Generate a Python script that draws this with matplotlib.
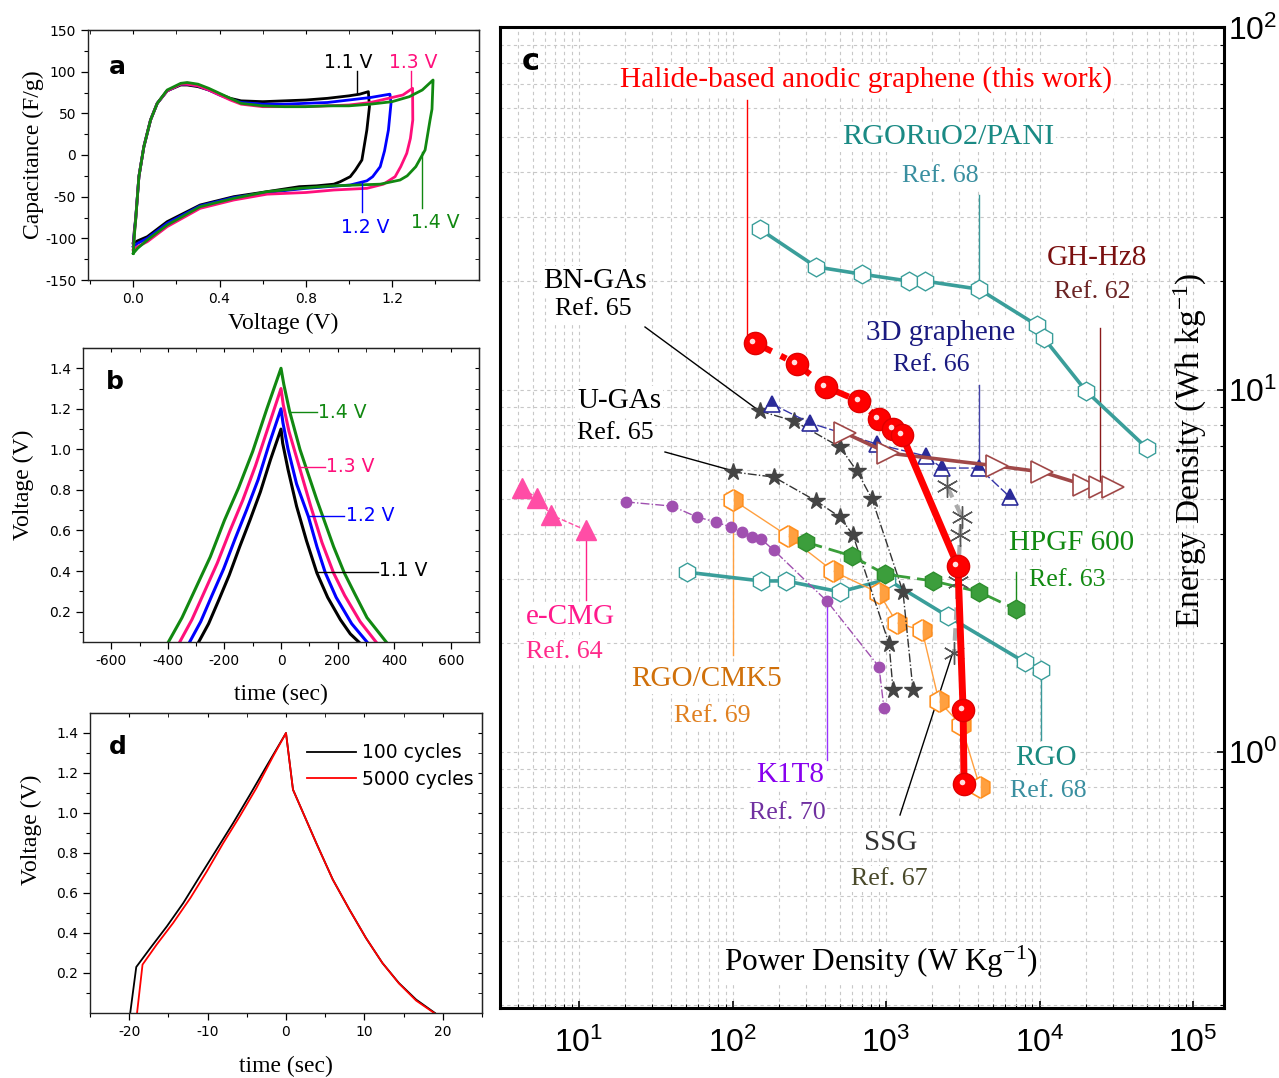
import matplotlib.pyplot as plt
from matplotlib import transforms
from matplotlib.ticker import FixedLocator, FormatStrFormatter, NullFormatter, LogLocator

plt.rcParams["mathtext.default"] = "regular"
plt.rcParams["axes.unicode_minus"] = False
plt.rcParams["font.family"] = "DejaVu Sans"

SERIF = "Liberation Serif"
ARIAL = "Liberation Sans"

# ---------------- panel a : CV curves ----------------
cv_v_11 = [0.0, 0.005, 0.011, 0.026, 0.049, 0.08, 0.111, 0.157, 0.22, 0.25, 0.30, 0.35, 0.40, 0.45, 0.50, 0.60,
           0.70, 0.80, 0.90, 1.00, 1.05, 1.09,
           1.095, 1.083, 1.06, 1.03, 1.006, 0.96, 0.93, 0.85, 0.77, 0.62, 0.466, 0.31, 0.157, 0.065, 0.02, 0.0]
cv_c_11 = [-106, -90, -76, -26, 10, 42, 62, 77, 84, 84, 82, 78, 73, 68, 65, 64,
           65, 66, 68, 71, 73, 76,
           58, 30, -6, -18, -26, -32, -35, -37, -38, -44, -50, -60, -80, -98, -103, -106]
cv_v_12 = [0.0, 0.005, 0.011, 0.026, 0.049, 0.08, 0.111, 0.157, 0.22, 0.25, 0.30, 0.35, 0.40, 0.45, 0.50, 0.60,
           0.70, 0.80, 0.90, 1.00, 1.10, 1.19,
           1.195, 1.183, 1.165, 1.145, 1.11, 1.083, 1.006, 0.90, 0.80, 0.62, 0.466, 0.31, 0.157, 0.065, 0.02, 0.0]
cv_c_12 = [-110, -92, -77, -26, 10, 42, 62, 77, 85, 85, 83, 78, 72, 67, 63, 61,
           61, 62, 63, 66, 69, 73,
           62, 30, 5, -14, -26, -31, -36, -38, -40, -45, -51, -61, -82, -100, -106, -110]
cv_v_13 = [0.0, 0.005, 0.011, 0.026, 0.049, 0.08, 0.111, 0.157, 0.22, 0.25, 0.30, 0.35, 0.40, 0.45, 0.50, 0.60,
           0.70, 0.80, 0.90, 1.00, 1.10, 1.15, 1.25, 1.295,
           1.296, 1.285, 1.268, 1.24, 1.214, 1.16, 1.083, 0.93, 0.80, 0.62, 0.466, 0.31, 0.157, 0.065, 0.02, 0.0]
cv_c_13 = [-114, -94, -78, -26, 10, 42, 62, 77, 85, 85, 83, 78, 72, 66, 61, 58,
           58, 58, 59, 60, 63, 66, 72, 80,
           42, 20, 2, -14, -26, -35, -40, -42, -45, -47, -54, -64, -86, -104, -110, -114]
cv_v_14 = [0.0, 0.005, 0.011, 0.026, 0.049, 0.08, 0.111, 0.157, 0.22, 0.25, 0.30, 0.35, 0.40, 0.45, 0.50, 0.60,
           0.70, 0.80, 0.90, 1.00, 1.10, 1.20, 1.28, 1.34, 1.39,
           1.385, 1.376, 1.353, 1.31, 1.27, 1.237, 1.145, 0.93, 0.77, 0.62, 0.466, 0.31, 0.157, 0.065, 0.02, 0.0]
cv_c_14 = [-118, -96, -78, -26, 10, 42, 62, 78, 86, 87, 85, 80, 74, 68, 62, 59,
           58, 58, 59, 59, 61, 64, 70, 78, 90,
           55, 42, 6, -14, -25, -30, -35, -37, -40, -44, -52, -62, -84, -102, -112, -118]

# ---------------- panel b : charge / discharge ----------------
gcd_t_11 = [-291, -256, -219, -183, -146, -110, -73, -37, 0, 6, 25, 55, 90, 127, 165, 210, 245, 275]
gcd_v_11 = [0.05, 0.14, 0.26, 0.38, 0.52, 0.65, 0.79, 0.95, 1.1, 1.03, 0.9, 0.72, 0.55, 0.39, 0.27, 0.16, 0.09, 0.05]
gcd_t_12 = [-323, -284, -244, -203, -162, -122, -81, -41, 0, 7, 25, 55, 97, 127, 157, 195, 250, 304]
gcd_v_12 = [0.05, 0.15, 0.28, 0.41, 0.56, 0.70, 0.85, 1.03, 1.2, 1.13, 1.0, 0.83, 0.668, 0.52, 0.39, 0.27, 0.14, 0.05]
gcd_t_13 = [-358, -315, -270, -225, -180, -135, -90, -45, 0, 8, 28, 64, 105, 145, 186, 225, 280, 336]
gcd_v_13 = [0.05, 0.16, 0.30, 0.44, 0.60, 0.75, 0.92, 1.11, 1.3, 1.22, 1.09, 0.917, 0.72, 0.54, 0.39, 0.28, 0.15, 0.05]
gcd_t_14 = [-398, -350, -300, -250, -200, -150, -100, -50, 0, 10, 30, 67, 127, 186, 224, 260, 304, 372]
gcd_v_14 = [0.05, 0.17, 0.32, 0.47, 0.65, 0.81, 0.99, 1.2, 1.4, 1.32, 1.19, 1.0, 0.75, 0.52, 0.39, 0.29, 0.17, 0.05]

# ---------------- panel d : cycling ----------------
cyc_t_100 = [-19.87, -19.1, -17.3, -15.2, -13.1, -11.0, -8.86, -6.74, -4.62, -2.5, 0, 0.89, 3.86, 5.97, 8.09,
             10.2, 12.3, 14.4, 16.6, 19.0]
cyc_v_100 = [0.0, 0.23, 0.325, 0.433, 0.55, 0.683, 0.817, 0.95, 1.09, 1.233, 1.4, 1.117, 0.85, 0.667, 0.517,
             0.375, 0.25, 0.15, 0.067, 0.0]
cyc_t_5000 = [-19.0, -18.3, -16.5, -14.4, -12.2, -10.1, -8.0, -5.9, -3.77, -1.65, 0, 0.89, 3.86, 5.97, 8.09,
              10.2, 12.3, 14.4, 16.6, 18.9]
cyc_v_5000 = [0.0, 0.242, 0.342, 0.45, 0.575, 0.708, 0.85, 0.983, 1.125, 1.283, 1.4, 1.117, 0.85, 0.667, 0.517,
              0.375, 0.25, 0.148, 0.062, 0.0]

# ---------------- panel c : Ragone plot (W/kg, Wh/kg) ----------------
halide_p = [140, 263, 406, 667, 900, 1112, 1271, 2944, 3178, 3223]
halide_e = [13.5, 11.8, 10.2, 9.32, 8.32, 7.80, 7.51, 3.26, 1.31, 0.816]
rgoruo_p = [151, 350, 698, 1413, 1795, 4036, 9640, 10700, 20100, 50100]
rgoruo_e = [27.8, 21.9, 20.9, 20.0, 20.0, 19.0, 15.1, 13.9, 9.94, 6.91]
ghhz_p = [541, 1030, 5280, 10380, 19500, 24800, 30100]
ghhz_e = [7.61, 6.70, 6.17, 5.94, 5.47, 5.40, 5.40]
gr3d_p = [181, 320, 873, 1823, 2318, 4036, 6430]
gr3d_e = [9.15, 8.11, 7.09, 6.57, 6.09, 6.09, 5.06]
bngas_p = [151, 252, 501, 647, 811, 1290, 1500]
bngas_e = [8.75, 8.21, 6.96, 5.97, 5.00, 2.77, 1.48]
ugas_p = [101, 186, 350, 501, 609, 1047, 1112]
ugas_e = [5.94, 5.75, 4.94, 4.46, 3.98, 1.99, 1.48]
ssg_p = [2494, 3126, 3035, 2944, 2775]
ssg_e = [5.43, 4.46, 3.98, 2.95, 1.88]
hpgf_p = [301, 601, 984, 2024, 4036, 7030]
hpgf_e = [3.80, 3.48, 3.10, 2.97, 2.77, 2.48]
rgo_p = [50.6, 153, 223, 501, 1016, 2535, 8050, 10240]
rgo_e = [3.14, 2.97, 2.97, 2.77, 3.00, 2.37, 1.77, 1.69]
cmk_p = [101, 230, 452, 900, 1180, 1718, 2213, 3080, 4090]
cmk_e = [4.97, 3.95, 3.16, 2.75, 2.27, 2.17, 1.38, 1.19, 0.80]
k1t8_p = [20.2, 40.4, 58.7, 78.1, 97.8, 115, 134, 153, 186, 413, 900, 970]
k1t8_e = [4.91, 4.78, 4.46, 4.32, 4.18, 4.05, 3.93, 3.88, 3.61, 2.61, 1.72, 1.32]
ecmg_p = [4.26, 5.32, 6.58, 11.1]
ecmg_e = [5.36, 5.03, 4.52, 4.10]

C_BLACK, C_BLUE, C_PINK, C_GREEN = "#000000", "#0000FF", "#FF0F7B", "#118811"

W, H = 1279, 1078
fig = plt.figure(figsize=(W / 100, H / 100), dpi=100)


def fx(px):
    return px / W


def fy(py):
    return 1 - py / H


def box(left, top, right, bottom):
    return [fx(left), fy(bottom), (right - left) / W, (bottom - top) / H]


def fig_line(ax, x1, y1, x2, y2, color, lw=1.0, z=2):
    ax.plot([fx(x1), fx(x2)], [fy(y1), fy(y2)], color=color, lw=lw,
            transform=fig.transFigure, clip_on=False, zorder=z)


def fig_text(ax, px, py, s, ha="center", **kw):
    ax.text(fx(px), fy(py), s, transform=fig.transFigure, ha=ha, va="center", **kw)


def small_panel(ax, xmaj, xmin, ymaj, ymin):
    for s in ax.spines.values():
        s.set_linewidth(1.0)
        s.set_color("#222222")
    ax.xaxis.set_major_locator(FixedLocator(xmaj))
    ax.xaxis.set_minor_locator(FixedLocator(xmin))
    ax.yaxis.set_major_locator(FixedLocator(ymaj))
    ax.yaxis.set_minor_locator(FixedLocator(ymin))
    ax.tick_params(which="major", direction="out", length=5, width=0.9, labelsize=10)
    ax.tick_params(which="minor", direction="out", length=3, width=0.8)
    top = ax.secondary_xaxis("top")
    top.xaxis.set_major_locator(FixedLocator(xmaj))
    top.xaxis.set_minor_locator(FixedLocator(xmin))
    top.tick_params(which="both", direction="in", length=3, labeltop=False)
    right = ax.secondary_yaxis("right")
    right.yaxis.set_major_locator(FixedLocator(ymaj))
    right.yaxis.set_minor_locator(FixedLocator(ymin))
    right.tick_params(which="both", direction="in", length=3, labelright=False)


# ---------------- panel a ----------------
ax_a = fig.add_axes(box(88, 30, 479, 280))
ax_a.plot(cv_v_11, cv_c_11, color=C_BLACK, lw=2)
ax_a.plot(cv_v_12, cv_c_12, color=C_BLUE, lw=2)
ax_a.plot(cv_v_13, cv_c_13, color=C_PINK, lw=2)
ax_a.plot(cv_v_14, cv_c_14, color=C_GREEN, lw=2)
ax_a.set_xlim(-0.21, 1.603)
ax_a.set_ylim(-150, 150)
small_panel(ax_a, [0.0, 0.4, 0.8, 1.2], [-0.2, 0.2, 0.6, 1.0, 1.4],
            [-150, -100, -50, 0, 50, 100, 150], [-125, -75, -25, 25, 75, 125])
ax_a.xaxis.set_major_formatter(FormatStrFormatter("%.1f"))
ax_a.set_xlabel("Voltage (V)", fontfamily=SERIF, fontsize=17)
ax_a.set_ylabel("Capacitance (F/g)", fontfamily=SERIF, fontsize=17)
ax_a.xaxis.set_label_coords(0.5, -0.132)
ax_a.yaxis.set_label_coords(-0.113, 0.5)
fig_text(ax_a, 117, 67, "a", fontsize=18, fontweight="bold")
fig_text(ax_a, 348, 62, "1.1 V", color=C_BLACK, fontsize=13.5)
fig_text(ax_a, 413, 62, "1.3 V", color=C_PINK, fontsize=13.5)
fig_text(ax_a, 365, 227, "1.2 V", color=C_BLUE, fontsize=13.5)
fig_text(ax_a, 435, 223, "1.4 V", color=C_GREEN, fontsize=13.5)
fig_line(ax_a, 357, 71, 357, 94, C_BLACK)
fig_line(ax_a, 411, 71, 411, 90, C_PINK)
fig_line(ax_a, 362, 183, 362, 212, C_BLUE)
fig_line(ax_a, 422, 152, 422, 208, C_GREEN)

# ---------------- panel b ----------------
ax_b = fig.add_axes(box(83, 348, 479, 642))
ax_b.plot(gcd_t_11, gcd_v_11, color=C_BLACK, lw=2.2)
ax_b.plot(gcd_t_12, gcd_v_12, color=C_BLUE, lw=2.2)
ax_b.plot(gcd_t_13, gcd_v_13, color=C_PINK, lw=2.2)
ax_b.plot(gcd_t_14, gcd_v_14, color=C_GREEN, lw=2.2)
ax_b.set_xlim(-700, 700)
ax_b.set_ylim(0.05, 1.5)
small_panel(ax_b, [-600, -400, -200, 0, 200, 400, 600], [-500, -300, -100, 100, 300, 500],
            [0.2, 0.4, 0.6, 0.8, 1.0, 1.2, 1.4], [0.1, 0.3, 0.5, 0.7, 0.9, 1.1, 1.3])
ax_b.yaxis.set_major_formatter(FormatStrFormatter("%.1f"))
ax_b.set_xlabel("time (sec)", fontfamily=SERIF, fontsize=17)
ax_b.set_ylabel("Voltage (V)", fontfamily=SERIF, fontsize=17)
ax_b.xaxis.set_label_coords(0.5, -0.143)
ax_b.yaxis.set_label_coords(-0.124, 0.534)
fig_text(ax_b, 115, 382, "b", fontsize=18, fontweight="bold")
fig_line(ax_b, 289, 412, 317, 412, C_GREEN)
fig_line(ax_b, 299, 467, 325, 467, C_PINK)
fig_line(ax_b, 308, 516, 344, 516, C_BLUE)
fig_line(ax_b, 317, 572, 378, 572, C_BLACK)
fig_text(ax_b, 318, 412, "1.4 V", ha="left", color=C_GREEN, fontsize=13.5)
fig_text(ax_b, 326, 467, "1.3 V", ha="left", color=C_PINK, fontsize=13.5)
fig_text(ax_b, 346, 515, "1.2 V", ha="left", color=C_BLUE, fontsize=13.5)
fig_text(ax_b, 379, 571, "1.1 V", ha="left", color=C_BLACK, fontsize=13.5)

# ---------------- panel d ----------------
ax_d = fig.add_axes(box(90, 713, 482, 1013))
ax_d.plot(cyc_t_100, cyc_v_100, color=C_BLACK, lw=1.3, label="100 cycles")
ax_d.plot(cyc_t_5000, cyc_v_5000, color="#FF0000", lw=1.3, label="5000 cycles")
ax_d.set_xlim(-25, 25)
ax_d.set_ylim(0, 1.5)
small_panel(ax_d, [-20, -10, 0, 10, 20], [-25, -15, -5, 5, 15, 25],
            [0.2, 0.4, 0.6, 0.8, 1.0, 1.2, 1.4], [0.1, 0.3, 0.5, 0.7, 0.9, 1.1, 1.3])
ax_d.yaxis.set_major_formatter(FormatStrFormatter("%.1f"))
ax_d.set_xlabel("time (sec)", fontfamily=SERIF, fontsize=17)
ax_d.set_ylabel("Voltage (V)", fontfamily=SERIF, fontsize=17)
ax_d.xaxis.set_label_coords(0.5, -0.143)
ax_d.yaxis.set_label_coords(-0.122, 0.61)
ax_d.legend(loc="upper left", bbox_to_anchor=(0.53, 0.93), frameon=False, fontsize=13.5,
            handlelength=2.6, handletextpad=0.35, labelspacing=0.4, borderpad=0)
fig_text(ax_d, 118, 747, "d", fontsize=18, fontweight="bold")

# ---------------- panel c ----------------
ax_c = fig.add_axes(box(500, 27, 1224, 1008))
ax_c.set_xscale("log")
ax_c.set_yscale("log")

ax_c.plot(rgo_p, rgo_e, "-", color="#3A9E9A", lw=2.6, marker="h", ms=13.5,
          mfc="white", mec="#3A9E9A", mew=1.0, zorder=3)
ax_c.plot(cmk_p, cmk_e, "-", color="#FFA040", lw=1.0, marker="h", ms=15.5, fillstyle="right",
          mfc="#FFA040", markerfacecoloralt="white", mec="#FF9020", mew=1.2, zorder=3)
ax_c.plot(k1t8_p, k1t8_e, color="#A050B0", lw=1.0, ls="-.", marker="o", ms=7.5,
          mfc="#A050B0", mec="#A050B0", zorder=3)
ax_c.plot(ecmg_p, ecmg_e, color="#FF4DA6", lw=1.0, ls="--", marker="^", ms=14.5,
          mfc="#FF4DA6", mec="#FF4DA6", zorder=3)
ax_c.plot(ugas_p, ugas_e, color="#333333", lw=1.0, ls="-.", marker="*", ms=13,
          mfc="#444444", mec="#444444", zorder=3)
ax_c.plot(bngas_p, bngas_e, color="#333333", lw=1.0, ls="-.", marker="*", ms=13,
          mfc="#444444", mec="#444444", zorder=3)
ax_c.plot(hpgf_p, hpgf_e, color="#3A9E3A", lw=2.0, ls=(0, (6, 2.5)), marker="h", ms=13.5,
          mfc="#3C9E3C", mec="#2E8E2E", zorder=3.1)
ax_c.plot(gr3d_p, gr3d_e, color="#3535A8", lw=1.0, ls=(0, (7, 2)), marker="^", ms=11.5,
          fillstyle="top", mfc="#2B2B99", markerfacecoloralt="white", mec="#2B2B99", mew=1.2, zorder=3.2)
ax_c.plot(ghhz_p, ghhz_e, color="#A04848", lw=2.6, marker=">", ms=16,
          mfc="white", mec="#A04848", mew=1.2, zorder=3.2)
ax_c.plot(rgoruo_p, rgoruo_e, color="#3A9E9A", lw=2.6, marker="h", ms=13.5,
          mfc="white", mec="#3A9E9A", mew=1.0, zorder=3.3)
ax_c.plot(ssg_p, ssg_e, color="#AAAAAA", lw=3.0, ls=(0, (3, 2)), marker=(6, 2, 0), ms=16,
          mec="#555555", mew=1.0, zorder=3.4)
ax_c.plot(halide_p[:7], halide_e[:7], color="#FF0000", lw=4.5, ls=(0, (3, 1.6, 1, 1.6)), zorder=4)
ax_c.plot(halide_p[6:], halide_e[6:], color="#FF0000", lw=5, zorder=4)
ax_c.plot(halide_p, halide_e, "o", ms=16, mfc="#FF0000", mec="#E00000", zorder=4.5)
hl = transforms.offset_copy(ax_c.transData, fig=fig, x=-2.5, y=2.0, units="dots")
ax_c.plot(halide_p, halide_e, "o", ms=4, mfc="#FFE0E0", mec="none", transform=hl, zorder=4.6)

ax_c.set_xlim(10 ** 0.485, 10 ** 5.202)
ax_c.set_ylim(10 ** -0.707, 10 ** 2.003)
ax_c.grid(True, which="both", ls=(0, (3, 3)), color="#C8C8C8", lw=0.8)
ax_c.set_axisbelow(True)
for s in ax_c.spines.values():
    s.set_linewidth(2.2)
    s.set_color("black")
ax_c.yaxis.tick_right()
ax_c.xaxis.set_major_locator(LogLocator(base=10, numticks=10))
ax_c.yaxis.set_major_locator(LogLocator(base=10, numticks=10))
ax_c.xaxis.set_minor_formatter(NullFormatter())
ax_c.yaxis.set_minor_formatter(NullFormatter())
ax_c.tick_params(which="major", direction="in", length=5, width=1.2, labelsize=23,
                 labelfontfamily=ARIAL)
ax_c.tick_params(which="minor", direction="in", length=3, width=0.8)
ax_c.tick_params(axis="x", which="major", pad=14)
ax_c.tick_params(axis="y", which="major", pad=3)

lbl = dict(transform=fig.transFigure, ha="center", va="center", fontfamily=SERIF, zorder=2,
           bbox=dict(fc="white", ec="none", pad=1.5))
NAME, REF = 21, 18.7


def c_text(px, py, s, color, size=NAME):
    ax_c.text(fx(px), fy(py), s, color=color, fontsize=size, **lbl)


c_text(866, 80, "Halide-based anodic graphene (this work)", "#FF0000", 21.2)
c_text(948, 137, "RGORuO2/PANI", "#1A8A84", 21.8)
c_text(940, 176, "Ref. 68", "#3A8FA0", REF)
c_text(1097, 258, "GH-Hz8", "#7A1010")
c_text(1092, 292, "Ref. 62", "#6B2525", REF)
c_text(941, 333, "3D graphene", "#1A1A80")
c_text(931, 365, "Ref. 66", "#1A1A80", REF)
c_text(595, 281, "BN-GAs", "black")
c_text(593, 309, "Ref. 65", "black", REF)
c_text(619, 401, "U-GAs", "black")
c_text(615, 433, "Ref. 65", "black", REF)
c_text(1072, 543, "HPGF 600", "#128A12")
c_text(1067, 580, "Ref. 63", "#128A12", REF)
c_text(1046, 758, "RGO", "#1A8A80")
c_text(1048, 791, "Ref. 68", "#3A8FA0", REF)
c_text(707, 679, "RGO/CMK5", "#D0700A")
c_text(712, 716, "Ref. 69", "#E08020", REF)
c_text(790, 775, "K1T8", "#8800EE")
c_text(787, 813, "Ref. 70", "#7030A0", REF)
c_text(570, 617, "e-CMG", "#FF1A8C")
c_text(564, 652, "Ref. 64", "#FF2A8A", REF)
c_text(891, 843, "SSG", "#333333")
c_text(889, 879, "Ref. 67", "#4A4A2A", REF)
c_text(881, 962, "Power Density (W Kg$^{-1}$)", "black", 22.5)
ax_c.text(fx(1190), fy(450), "Energy Density (Wh kg$^{-1}$)", color="black", fontsize=24,
          rotation=90, transform=fig.transFigure, ha="center", va="center", fontfamily=SERIF)

fig_line(ax_c, 747, 100, 747, 335, "#FF0000")
fig_line(ax_c, 979, 195, 979, 283, "#3A9A9A")
fig_line(ax_c, 1100, 328, 1100, 490, "#8B1A1A")
fig_line(ax_c, 979, 385, 979, 462, "#4444AA")
fig_line(ax_c, 645, 327, 758, 410, "black")
fig_line(ax_c, 665, 452, 730, 470, "black")
fig_line(ax_c, 1016, 572, 1016, 602, "#1A8A1A")
fig_line(ax_c, 1041, 675, 1041, 740, "#3A9A9A")
fig_line(ax_c, 733, 508, 733, 655, "#FFA040")
fig_line(ax_c, 827, 605, 827, 760, "#9933FF")
fig_line(ax_c, 586, 537, 586, 600, "#FF2288")
fig_line(ax_c, 900, 815, 953, 652, "black")
ax_c.text(fx(531), fy(62), "c", transform=fig.transFigure, ha="center", va="center",
          fontsize=22, fontweight="bold")

fig.savefig("out.png", dpi=100)
